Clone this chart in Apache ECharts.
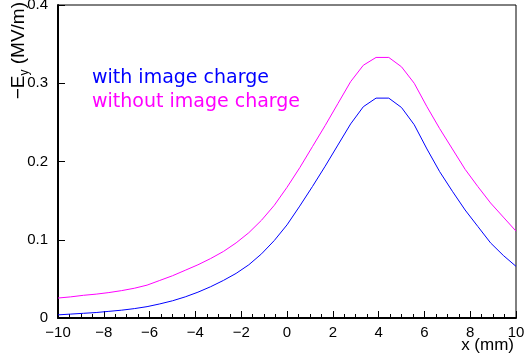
<!DOCTYPE html>
<html>
<head>
<meta charset="utf-8">
<script src="https://cdn.jsdelivr.net/npm/echarts@6/dist/echarts.min.js"></script>
<style>
  html, body { margin: 0; padding: 0; background: #fff; }
  #chart { width: 524px; height: 360px; }
</style>
</head>
<body>
<div id="chart"></div>
<script>
// x positions (mm) of the sampled points
const xValues = [
  -10, -9.444, -8.889, -8.333, -7.778, -7.222, -6.667, -6.111, -5.556, -5,
  -4.444, -3.889, -3.333, -2.778, -2.222, -1.667, -1.111, -0.556, 0,
  0.556, 1.111, 1.667, 2.222, 2.778, 3.333, 3.889, 4.444, 5, 5.556,
  6.111, 6.667, 7.222, 7.778, 8.333, 8.889, 9.444, 10,
];

// -Ey (MV/m)
const withImage = [
  0.004, 0.005, 0.006, 0.007, 0.0085, 0.010, 0.012, 0.0145, 0.018, 0.022,
  0.027, 0.033, 0.040, 0.048, 0.057, 0.068, 0.082, 0.099, 0.119,
  0.143, 0.168, 0.194, 0.221, 0.248, 0.270, 0.281, 0.281, 0.269, 0.247,
  0.216, 0.187, 0.162, 0.138, 0.117, 0.096, 0.080, 0.066,
];
const withoutImage = [
  0.0255, 0.027, 0.029, 0.0305, 0.0325, 0.035, 0.038, 0.042, 0.048, 0.054,
  0.061, 0.068, 0.076, 0.085, 0.096, 0.109, 0.125, 0.144, 0.167,
  0.192, 0.219, 0.246, 0.274, 0.302, 0.323, 0.333, 0.333, 0.321, 0.300,
  0.270, 0.242, 0.216, 0.190, 0.168, 0.147, 0.129, 0.111,
];

const seriesNames = ['with image charge', 'without image charge'];
const seriesColors = ['#0000ff', '#ff00ff'];

const FONT = 'Liberation Sans, Arial, sans-serif';
const minus = (v) => String(v).replace('-', '\u2212');

const chart = echarts.init(document.getElementById('chart'));

const option = {
  animation: false,
  grid: {
    left: 58,
    right: 8,
    top: 5,
    bottom: 42,
    outerBoundsMode: 'none',
    show: true,
    borderColor: '#000',
    borderWidth: 1,
  },
  legend: {
    orient: 'vertical',
    left: 86,
    top: 68,
    padding: 0,
    itemWidth: 0,
    itemHeight: 0,
    itemGap: 3,
    selectedMode: false,
    data: seriesNames.map((name, i) => ({
      name,
      textStyle: { color: seriesColors[i] },
    })),
    textStyle: { fontFamily: 'DejaVu Sans', fontSize: 19, lineHeight: 21 },
  },
  xAxis: {
    type: 'value',
    min: -10,
    max: 10,
    interval: 2,
    axisLine: { onZero: false, lineStyle: { color: '#000', width: 2 } },
    axisTick: { inside: true, length: 7, lineStyle: { color: '#000' } },
    minorTick: { show: true, splitNumber: 4, length: 4, lineStyle: { color: '#000' } },
    splitLine: { show: false },
    axisLabel: {
      margin: 7,
      fontFamily: FONT,
      fontSize: 15,
      color: '#000',
      formatter: minus,
    },
  },
  yAxis: {
    type: 'value',
    min: 0,
    max: 0.4,
    interval: 0.1,
    axisLine: { show: true, onZero: false, lineStyle: { color: '#000', width: 2 } },
    axisTick: { show: true, inside: true, length: 7, lineStyle: { color: '#000' } },
    splitLine: { show: false },
    axisLabel: {
      margin: 10,
      fontFamily: FONT,
      fontSize: 15,
      color: '#000',
    },
  },
  // axis titles: rotated y title has a subscript
  graphic: [
    {
      type: 'text',
      x: 19,
      y: 2,
      rotation: Math.PI / 2,
      style: {
        text: '{a|\u2212E}{s|y}{a| (MV/m)}',
        align: 'right',
        verticalAlign: 'middle',
        rich: {
          a: { fontFamily: FONT, fontSize: 19, fill: '#000', lineHeight: 24 },
          s: { fontFamily: FONT, fontSize: 12, fill: '#000', lineHeight: 24, verticalAlign: 'bottom' },
        },
      },
    },
    {
      type: 'text',
      x: 514,
      y: 345,
      style: {
        text: 'x (mm)',
        align: 'right',
        verticalAlign: 'middle',
        fontFamily: FONT,
        fontSize: 17,
        fill: '#000',
      },
    },
  ],
  series: [withImage, withoutImage].map((vals, i) => ({
    name: seriesNames[i],
    type: 'line',
    data: xValues.map((x, j) => [x, vals[j]]),
    symbol: 'none',
    smooth: false,
    lineStyle: { color: seriesColors[i], width: 1 },
    itemStyle: { color: seriesColors[i] },
  })),
};

chart.setOption(option);
</script>
</body>
</html>
